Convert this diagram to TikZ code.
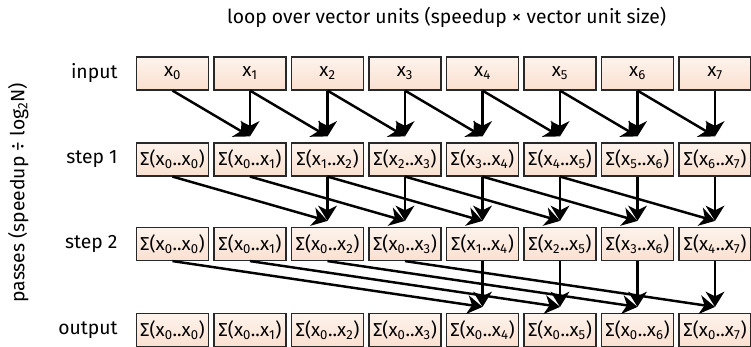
\documentclass[tikz,border=0pt]{standalone}
\usepackage{fontspec}
\setmainfont{Fira Sans}
\usepackage{xcolor}
\usepackage{tikz}
\usetikzlibrary{arrows.meta}
\definecolor{celltop}{RGB}{253,243,236}
\definecolor{cellbot}{RGB}{250,224,208}
\definecolor{celledge}{RGB}{40,40,40}

\begin{document}
\begin{tikzpicture}[
  cell/.style={draw=celledge, line width=1pt, top color=celltop, bottom color=cellbot, minimum width=2.16cm, minimum height=0.99cm, inner sep=0pt, font=\fontsize{16}{18}\selectfont},
  rowlabel/.style={anchor=east, font=\fontsize{16.5}{18}\selectfont},
  arr/.style={-{Stealth[length=13pt, width=16pt, inset=4pt]}, line width=2.1pt},
  every node/.style={font=\fontsize{16.5}{18}\selectfont}
]
\useasboundingbox (0,0) rectangle (22.53,10.38);

% Axis titles
\node (looptitle) at (13.4,9.87) {loop over vector units (speedup × vector unit size)};
\node[rotate=90] (passtitle) at (0.55,4.6) {passes (speedup ÷ log\textsubscript{2}N)};

% Row labels
\node[rowlabel] (lblin) at (3.65,8.175) {input};
\node[rowlabel] (lblone) at (3.65,5.595) {step 1};
\node[rowlabel] (lbltwo) at (3.65,3.06) {step 2};
\node[rowlabel] (lblout) at (3.65,0.48) {output};

% Input row
\node[cell] (in0) at (5.175,8.175) {x\textsubscript{0}};
\node[cell] (in1) at (7.5,8.175) {x\textsubscript{1}};
\node[cell] (in2) at (9.825,8.175) {x\textsubscript{2}};
\node[cell] (in3) at (12.15,8.175) {x\textsubscript{3}};
\node[cell] (in4) at (14.475,8.175) {x\textsubscript{4}};
\node[cell] (in5) at (16.8,8.175) {x\textsubscript{5}};
\node[cell] (in6) at (19.125,8.175) {x\textsubscript{6}};
\node[cell] (in7) at (21.45,8.175) {x\textsubscript{7}};

% Step 1 row
\node[cell] (sone0) at (5.175,5.595) {Σ(x\textsubscript{0}..x\textsubscript{0})};
\node[cell] (sone1) at (7.5,5.595) {Σ(x\textsubscript{0}..x\textsubscript{1})};
\node[cell] (sone2) at (9.825,5.595) {Σ(x\textsubscript{1}..x\textsubscript{2})};
\node[cell] (sone3) at (12.15,5.595) {Σ(x\textsubscript{2}..x\textsubscript{3})};
\node[cell] (sone4) at (14.475,5.595) {Σ(x\textsubscript{3}..x\textsubscript{4})};
\node[cell] (sone5) at (16.8,5.595) {Σ(x\textsubscript{4}..x\textsubscript{5})};
\node[cell] (sone6) at (19.125,5.595) {Σ(x\textsubscript{5}..x\textsubscript{6})};
\node[cell] (sone7) at (21.45,5.595) {Σ(x\textsubscript{6}..x\textsubscript{7})};

% Step 2 row
\node[cell] (stwo0) at (5.175,3.06) {Σ(x\textsubscript{0}..x\textsubscript{0})};
\node[cell] (stwo1) at (7.5,3.06) {Σ(x\textsubscript{0}..x\textsubscript{1})};
\node[cell] (stwo2) at (9.825,3.06) {Σ(x\textsubscript{0}..x\textsubscript{2})};
\node[cell] (stwo3) at (12.15,3.06) {Σ(x\textsubscript{0}..x\textsubscript{3})};
\node[cell] (stwo4) at (14.475,3.06) {Σ(x\textsubscript{1}..x\textsubscript{4})};
\node[cell] (stwo5) at (16.8,3.06) {Σ(x\textsubscript{2}..x\textsubscript{5})};
\node[cell] (stwo6) at (19.125,3.06) {Σ(x\textsubscript{3}..x\textsubscript{6})};
\node[cell] (stwo7) at (21.45,3.06) {Σ(x\textsubscript{4}..x\textsubscript{7})};

% Output row
\node[cell] (out0) at (5.175,0.48) {Σ(x\textsubscript{0}..x\textsubscript{0})};
\node[cell] (out1) at (7.5,0.48) {Σ(x\textsubscript{0}..x\textsubscript{1})};
\node[cell] (out2) at (9.825,0.48) {Σ(x\textsubscript{0}..x\textsubscript{2})};
\node[cell] (out3) at (12.15,0.48) {Σ(x\textsubscript{0}..x\textsubscript{3})};
\node[cell] (out4) at (14.475,0.48) {Σ(x\textsubscript{0}..x\textsubscript{4})};
\node[cell] (out5) at (16.8,0.48) {Σ(x\textsubscript{0}..x\textsubscript{5})};
\node[cell] (out6) at (19.125,0.48) {Σ(x\textsubscript{0}..x\textsubscript{6})};
\node[cell] (out7) at (21.45,0.48) {Σ(x\textsubscript{0}..x\textsubscript{7})};

% input -> step 1 (distance 1)
\draw[arr] (in0.south) -- ([yshift=0.18cm]sone1.north);
\draw[arr] (in1.south) -- ([yshift=0.18cm]sone2.north);
\draw[arr] (in2.south) -- ([yshift=0.18cm]sone3.north);
\draw[arr] (in3.south) -- ([yshift=0.18cm]sone4.north);
\draw[arr] (in4.south) -- ([yshift=0.18cm]sone5.north);
\draw[arr] (in5.south) -- ([yshift=0.18cm]sone6.north);
\draw[arr] (in6.south) -- ([yshift=0.18cm]sone7.north);
\draw[arr] (in1.south) -- ([yshift=0.18cm]sone1.north);
\draw[arr] (in2.south) -- ([yshift=0.18cm]sone2.north);
\draw[arr] (in3.south) -- ([yshift=0.18cm]sone3.north);
\draw[arr] (in4.south) -- ([yshift=0.18cm]sone4.north);
\draw[arr] (in5.south) -- ([yshift=0.18cm]sone5.north);
\draw[arr] (in6.south) -- ([yshift=0.18cm]sone6.north);
\draw[arr] (in7.south) -- ([yshift=0.18cm]sone7.north);

% step 1 -> step 2 (distance 2)
\draw[arr] (sone0.south) -- ([yshift=0.18cm]stwo2.north);
\draw[arr] (sone1.south) -- ([yshift=0.18cm]stwo3.north);
\draw[arr] (sone2.south) -- ([yshift=0.18cm]stwo4.north);
\draw[arr] (sone3.south) -- ([yshift=0.18cm]stwo5.north);
\draw[arr] (sone4.south) -- ([yshift=0.18cm]stwo6.north);
\draw[arr] (sone5.south) -- ([yshift=0.18cm]stwo7.north);
\draw[arr] (sone2.south) -- ([yshift=0.18cm]stwo2.north);
\draw[arr] (sone3.south) -- ([yshift=0.18cm]stwo3.north);
\draw[arr] (sone4.south) -- ([yshift=0.18cm]stwo4.north);
\draw[arr] (sone5.south) -- ([yshift=0.18cm]stwo5.north);
\draw[arr] (sone6.south) -- ([yshift=0.18cm]stwo6.north);
\draw[arr] (sone7.south) -- ([yshift=0.18cm]stwo7.north);

% step 2 -> output (distance 4)
\draw[arr] (stwo0.south) -- ([yshift=0.18cm]out4.north);
\draw[arr] (stwo1.south) -- ([yshift=0.18cm]out5.north);
\draw[arr] (stwo2.south) -- ([yshift=0.18cm]out6.north);
\draw[arr] (stwo3.south) -- ([yshift=0.18cm]out7.north);
\draw[arr] (stwo4.south) -- ([yshift=0.18cm]out4.north);
\draw[arr] (stwo5.south) -- ([yshift=0.18cm]out5.north);
\draw[arr] (stwo6.south) -- ([yshift=0.18cm]out6.north);
\draw[arr] (stwo7.south) -- ([yshift=0.18cm]out7.north);

\end{tikzpicture}
\end{document}
